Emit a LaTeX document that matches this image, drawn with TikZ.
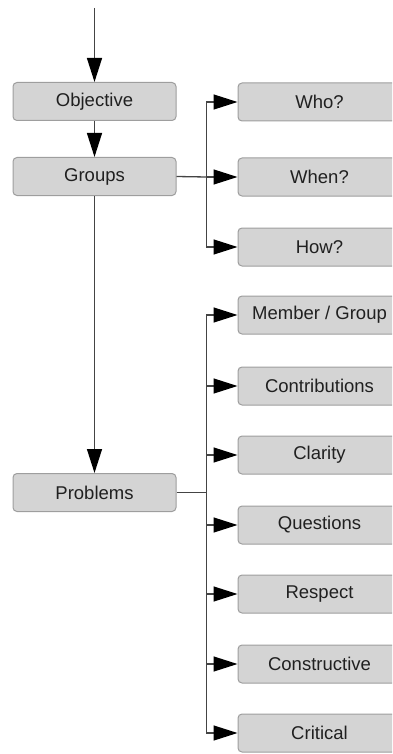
\documentclass[tikz,border=0pt]{standalone}
\usepackage{fontspec}
\setmainfont{Liberation Sans}
\usetikzlibrary{arrows.meta}
\definecolor{boxfill}{HTML}{D4D4D4}
\definecolor{boxline}{HTML}{9E9E9E}
\definecolor{linec}{HTML}{444444}
\definecolor{textc}{HTML}{202020}
\begin{document}
\begin{tikzpicture}[x=1pt,y=-1pt,
  box/.style={draw=boxline, fill=boxfill, rounded corners=4pt, line width=1pt,
    minimum width=163pt, minimum height=38pt, inner sep=0pt,
    font=\fontsize{18.5}{21}\selectfont, text=textc},
  conn/.style={draw=linec, line width=1.3pt,
    -{Triangle[length=24pt,width=15pt,color=black,fill=black]}},
  plain/.style={draw=linec, line width=1.3pt}]
\useasboundingbox (0,0) rectangle (392,754);
\clip (0,0) rectangle (392,754);
% left column
\node[box] (obj)  at (94.5,101.5) {Objective};
\node[box] (grp)  at (94.5,176.5) {Groups};
\node[box] (prob) at (94.5,492.5) {Problems};
% right column
\node[box] (who)  at (319.5,102) {Who?};
\node[box] (when) at (319.5,177) {When?};
\node[box] (how)  at (319.5,247) {How?};
\node[box] (mem)  at (319.5,315) {Member / Group};
\node[box] (con)  at (319.5,386) {Contributions};
\node[box] (cla)  at (319.5,455) {Clarity};
\node[box] (que)  at (319.5,525) {Questions};
\node[box] (res)  at (319.5,594) {Respect};
\node[box] (cst)  at (319.5,664) {Constructive};
\node[box] (cri)  at (319.5,733) {Critical};
% connectors
\coordinate (top) at (94.5,8);
\coordinate (t1) at (206.5,177);
\coordinate (t2) at (206.5,492.5);
\draw[conn] (top) -- (obj.north);
\draw[conn] (obj) -- (grp);
\draw[conn] (grp) -- (prob);
\draw[plain] (grp.east) -- (t1);
\draw[conn] (t1) |- (who.west);
\draw[conn] (t1) -- (when.west);
\draw[conn] (t1) |- (how.west);
\draw[plain] (prob.east) -- (t2);
\foreach \n in {mem,con,cla,que,res,cst,cri}
  \draw[conn] (t2) |- (\n.west);
\end{tikzpicture}
\end{document}
